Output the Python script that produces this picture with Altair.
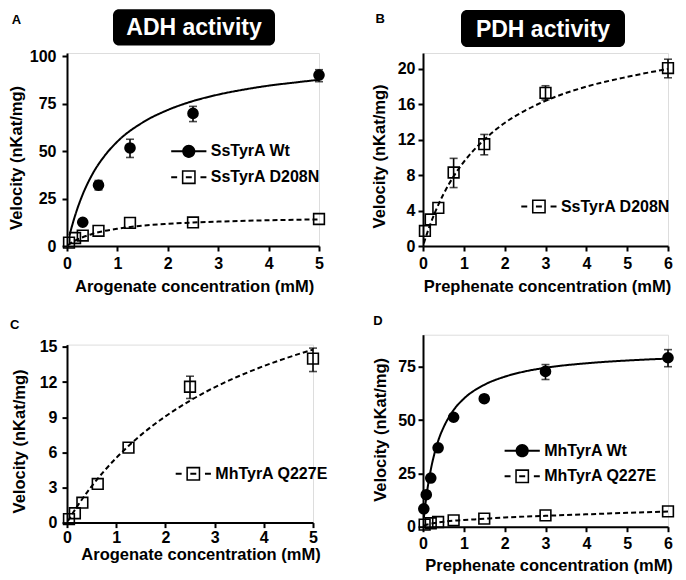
import altair as alt
import pandas as pd

FONT = "Liberation Sans"

# ---------------- data ----------------
# Panel A: ADH activity, arogenate (mM) -> velocity (nKat/mg)
A_wt_x = [0.3125, 0.625, 1.25, 2.5, 5]
A_wt_v = [12.5, 32.0, 51.6, 69.8, 90.0]
A_wt_err_x = [0.625, 1.25, 2.5, 5]
A_wt_err_lo = [29.5, 46.6, 65.5, 86.5]
A_wt_err_hi = [34.5, 56.2, 73.5, 92.8]
A_mut_x = [0.04, 0.16, 0.3125, 0.625, 1.25, 2.5, 5]
A_mut_v = [1.8, 4.2, 5.5, 8.0, 12.2, 12.4, 14.2]
A_wt_fit_x = [0.05, 0.1, 0.2, 0.3, 0.5, 0.75, 1, 1.5, 2, 2.5, 3, 3.5, 4, 4.5, 5]
A_wt_fit_v = [5.6, 10.6, 19.2, 26.4, 37.6, 47.6, 55.0, 65.0, 71.6, 76.3, 79.7, 82.3, 84.4, 86.0, 87.5]
A_mut_fit_x = [0.02, 0.1, 0.2, 0.3, 0.5, 0.75, 1, 1.5, 2, 2.5, 3, 4, 5]
A_mut_fit_v = [0.4, 1.86, 3.33, 4.5, 6.36, 7.97, 9.1, 10.7, 11.65, 12.35, 12.85, 13.55, 14.0]

# Panel B: PDH activity, prephenate (mM)
B_mut_x = [0.047, 0.1875, 0.375, 0.75, 1.5, 3, 6]
B_mut_v = [1.7, 3.0, 4.3, 8.3, 11.5, 17.3, 20.1]
B_mut_err_x = [0.75, 1.5, 3, 6]
B_mut_err_lo = [6.6, 10.3, 16.5, 19.0]
B_mut_err_hi = [9.9, 12.6, 18.1, 21.1]
B_mut_fit_x = [0.02, 0.1, 0.2, 0.375, 0.5, 0.75, 1, 1.5, 2, 2.5, 3, 4, 5, 6]
B_mut_fit_v = [0.3, 1.43, 2.71, 4.65, 5.84, 7.87, 9.5, 12.0, 13.9, 15.3, 16.4, 18.0, 19.1, 20.0]

# Panel C: ADH activity of MhTyrA Q227E, arogenate (mM)
C_mut_x = [0.04, 0.16, 0.3125, 0.625, 1.25, 2.5, 5]
C_mut_v = [0.3, 0.8, 1.7, 3.3, 6.4, 11.6, 14.0]
C_mut_err_x = [2.5, 5]
C_mut_err_lo = [10.6, 12.9]
C_mut_err_hi = [12.5, 14.9]
C_mut_fit_x = [0.02, 0.1, 0.25, 0.5, 0.75, 1, 1.25, 1.5, 2, 2.5, 3, 3.5, 4, 4.5, 5]
C_mut_fit_v = [0.14, 0.69, 1.65, 3.1, 4.38, 5.52, 6.55, 7.47, 9.07, 10.41, 11.55, 12.52, 13.37, 14.11, 14.77]

# Panel D: PDH activity of MhTyrA, prephenate (mM)
D_wt_x = [0.02, 0.08, 0.19, 0.37, 0.75, 1.5, 3, 6]
D_wt_v = [8.4, 15.0, 22.8, 37.0, 51.3, 60.0, 72.8, 79.2]
D_wt_err_x = [3, 6]
D_wt_err_lo = [69.0, 75.0]
D_wt_err_hi = [76.0, 83.0]
D_mut_x = [0.04, 0.19, 0.37, 0.75, 1.5, 3, 6]
D_mut_v = [1.0, 1.6, 2.2, 3.0, 3.8, 5.3, 7.2]
D_wt_fit_x = [0.02, 0.05, 0.1, 0.2, 0.3, 0.4, 0.5, 0.75, 1, 1.5, 2, 2.5, 3, 4, 5, 6]
D_wt_fit_v = [4.0, 9.2, 16.5, 27.6, 35.7, 41.8, 46.4, 54.7, 60.0, 66.5, 70.3, 72.8, 74.5, 76.6, 77.9, 78.8]
D_mut_fit_x = [0.02, 0.1, 0.25, 0.5, 0.75, 1, 1.5, 2, 3, 4, 5, 6]
D_mut_fit_v = [0.4, 1.0, 1.6, 2.3, 2.8, 3.1, 3.7, 4.3, 5.1, 5.8, 6.5, 7.1]

panel_letters = ["A", "B", "C", "D"]
box_titles = ["ADH activity", "PDH activity"]
x_titles = ["Arogenate concentration (mM)", "Prephenate concentration (mM)"]
y_title = "Velocity (nKat/mg)"

# legend symbols (line + marker) drawn as filled shapes in Vega's unit-square convention
WT_SYMBOL = ("M-1.6,-0.09H1.6V0.09H-1.6Z"
             "M0.6,0A0.6,0.6,0,1,1,-0.6,0A0.6,0.6,0,1,1,0.6,0Z")
MUT_SYMBOL = ("M-1.6,-0.09H-1.06V0.09H-1.6Z"
              "M1.06,-0.09H1.6V0.09H1.06Z"
              "M-0.63,-0.63H0.63V0.63H-0.63Z"
              "M-0.49,-0.49V0.49H0.49V-0.49Z"
              "M-0.27,-0.09H0.27V0.09H-0.27Z")

IND = dict(shape="independent")


def txt(text, x, y, size, color="black", angle=0):
    df = pd.DataFrame({"t": [text]})
    return (alt.Chart(df).mark_text(color=color, font=FONT, fontWeight="bold", fontSize=size,
                                    align="center", baseline="middle", angle=angle)
            .encode(text="t:N", x=alt.value(x), y=alt.value(y)))


def panel(letter, letter_xy, box, xdom, ydom, xticks, yticks, xtitle, width, height,
          curves, points, errors, legend_xy, legend_pad, xlab_pad, ylab_pad, xtitle_xy, ytitle_xy):
    xaxis = alt.Axis(values=xticks, title=None, grid=False, domainWidth=2, domainColor="black",
                     tickWidth=2, tickSize=5, tickColor="black", labelFont=FONT, labelFontSize=16,
                     labelFontWeight="bold", labelColor="black", labelPadding=xlab_pad,
                     labelFlush=False, labelOverlap=False, format="d")
    yaxis = alt.Axis(values=yticks, title=None, grid=False, domainWidth=2, domainColor="black",
                     tickWidth=2, tickSize=5, tickColor="black", labelFont=FONT, labelFontSize=16,
                     labelFontWeight="bold", labelColor="black", labelPadding=ylab_pad,
                     labelFlush=False, labelOverlap=False, format="d")
    xs = alt.Scale(domain=xdom, nice=False, zero=False)
    ys = alt.Scale(domain=ydom, nice=False)
    X = alt.X("x:Q", scale=xs, axis=xaxis)

    layers = []
    for cx, cv, dashed in curves:
        df = pd.DataFrame({"x": cx, "v": cv})
        layers.append(alt.Chart(df).mark_line(color="black", strokeWidth=2, interpolate="monotone",
                                               strokeDash=[5, 3] if dashed else [1, 0], clip=True)
                      .encode(x=X, y=alt.Y("v:Q", scale=ys, axis=yaxis)))
    for ex, lo, hi in errors:
        df = pd.DataFrame({"x": ex, "lo": lo, "hi": hi})
        layers.append(alt.Chart(df).mark_rule(color="black", strokeWidth=1.6)
                      .encode(x=X, y=alt.Y("lo:Q", scale=ys, axis=yaxis), y2="hi:Q"))
        for f in ["lo", "hi"]:
            layers.append(alt.Chart(df).mark_tick(color="black", orient="horizontal", size=8, thickness=1.6)
                          .encode(x=X, y=alt.Y(f + ":Q", scale=ys, axis=yaxis)))
    leg_names, leg_paths, leg_rows = [], [], []
    for name, px, pv, kind in points:
        df = pd.DataFrame({"x": px, "v": pv, "series": name})
        if kind == "circle":
            m = alt.Chart(df).mark_point(shape="circle", size=135, filled=True, color="black", opacity=1)
            leg_paths.append(WT_SYMBOL)
        else:
            m = alt.Chart(df).mark_point(shape="square", size=115, filled=False, color="black",
                                         strokeWidth=1.6, opacity=1)
            leg_paths.append(MUT_SYMBOL)
        layers.append(m.encode(x=X, y=alt.Y("v:Q", scale=ys, axis=yaxis)))
        leg_names.append(name)
        leg_rows.append(df)
    leg_df = pd.concat(leg_rows)
    LEG = alt.Legend(title=None, orient="none", legendX=legend_xy[0], legendY=legend_xy[1],
                     symbolSize=484, symbolStrokeWidth=0, symbolOpacity=1, symbolFillColor="black",
                     labelFont=FONT, labelFontSize=16, labelFontWeight="bold", labelColor="black",
                     labelOffset=11, rowPadding=legend_pad, padding=0)
    layers.append(alt.Chart(leg_df).mark_point(opacity=0, filled=True, color="black", size=4, strokeWidth=0)
                  .encode(x=X, y=alt.Y("v:Q", scale=ys, axis=yaxis),
                          shape=alt.Shape("series:N", scale=alt.Scale(domain=leg_names, range=leg_paths),
                                          legend=LEG)))

    # axis titles
    layers.append(txt(xtitle, xtitle_xy[0], height + xtitle_xy[1], 16.5))
    layers.append(txt(y_title, ytitle_xy[0], ytitle_xy[1], 16.5, angle=270))

    if box is not None:
        text, bx1, bx2, by1, by2 = box
        bdf = pd.DataFrame({"t": [text]})
        layers.append(alt.Chart(bdf).mark_rect(color="black", cornerRadius=6)
                      .encode(x=alt.value(bx1), x2=alt.value(bx2), y=alt.value(by1), y2=alt.value(by2)))
        layers.append(txt(text, (bx1 + bx2) / 2, (by1 + by2) / 2 + 1, 23, color="white"))
    layers.append(txt(letter, letter_xy[0], letter_xy[1], 13))
    return alt.layer(*layers).properties(width=width, height=height)


pA = panel(panel_letters[0], (-50.6, -33), (box_titles[0], 46, 208, -43.7, -7.6), [0, 5], [0, 101.6],
           [0, 1, 2, 3, 4, 5], [0, 25, 50, 75, 100], x_titles[0], 252, 193,
           [(A_wt_fit_x, A_wt_fit_v, False), (A_mut_fit_x, A_mut_fit_v, True)],
           [("SsTyrA Wt", A_wt_x, A_wt_v, "circle"), ("SsTyrA D208N", A_mut_x, A_mut_v, "square")],
           [(A_wt_err_x, A_wt_err_lo, A_wt_err_hi)],
           (110.8, 87.3), 6.9, 4, 6, (127.6, 40.5), (-49.7, 105))
pB = panel(panel_letters[1], (-42.7, -34.5), (box_titles[1], 38, 202, -43, -6), [0, 6], [0, 21.8],
           [0, 1, 2, 3, 4, 5, 6], [0, 4, 8, 12, 16, 20], x_titles[1], 245, 193,
           [(B_mut_fit_x, B_mut_fit_v, True)],
           [("SsTyrA D208N", B_mut_x, B_mut_v, "square")],
           [(B_mut_err_x, B_mut_err_lo, B_mut_err_hi)],
           (104.9, 142.5), 6.9, 4, 3, (124.5, 40.5), (-43.5, 103.5))
pC = panel(panel_letters[2], (-52.2, -19.4), None, [0, 5], [0, 15.2],
           [0, 1, 2, 3, 4, 5], [0, 3, 6, 9, 12, 15], x_titles[0], 246, 178,
           [(C_mut_fit_x, C_mut_fit_v, True)],
           [("MhTyrA Q227E", C_mut_x, C_mut_v, "square")],
           [(C_mut_err_x, C_mut_err_lo, C_mut_err_hi)],
           (115.3, 118.2), 6.9, 2, 5, (134, 32.2), (-47.1, 96.9))
pD = panel(panel_letters[3], (-45, -13.5), None, [0, 6], [0, 90],
           [0, 1, 2, 3, 4, 5, 6], [0, 25, 50, 75], x_titles[1], 245, 192,
           [(D_wt_fit_x, D_wt_fit_v, False), (D_mut_fit_x, D_mut_fit_v, True)],
           [("MhTyrA Wt", D_wt_x, D_wt_v, "circle"), ("MhTyrA Q227E", D_mut_x, D_mut_v, "square")],
           [(D_wt_err_x, D_wt_err_lo, D_wt_err_hi)],
           (88.2, 105), 6.6, 4, 2.5, (126.1, 39.4), (-42.5, 95.2))

col1 = alt.vconcat(pA, pC, spacing=98.6, bounds="flush").resolve_scale(**IND).resolve_legend(**IND)
col2 = alt.vconcat(pB, pD, spacing=88.7, bounds="flush").resolve_scale(**IND).resolve_legend(**IND)
chart = (alt.hconcat(col1, col2, spacing=42)
         .resolve_scale(**IND).resolve_legend(**IND)
         .properties(padding=0)
         .configure_view(stroke=None)
         .configure(font=FONT))

chart.save("out.html", embed_options={"renderer": "svg", "actions": False})
